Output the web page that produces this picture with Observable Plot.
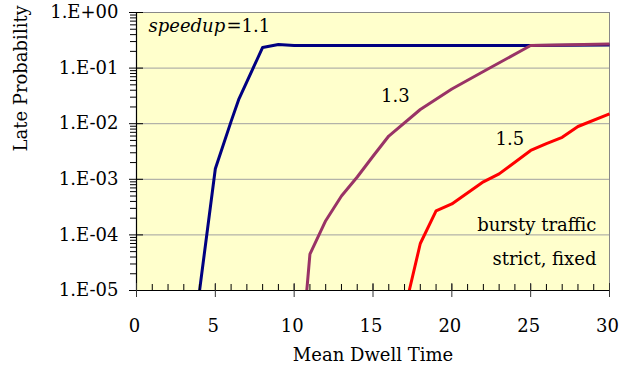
<!DOCTYPE html>
<html><head><meta charset="utf-8">
<script src="https://cdn.jsdelivr.net/npm/d3@7"></script>
<script src="https://cdn.jsdelivr.net/npm/@observablehq/plot@0.6"></script>
<style>body{margin:0;background:#fff;}</style>
</head><body><div id="chart"></div>
<script>
// Series data
const speedups = ["1.1", "1.3", "1.5"];
const dwell11 = [4, 5, 6, 6.5, 8, 9, 10, 15, 20, 25, 30];
const late11  = [1e-5, 1.55e-3, 1.1e-2, 2.8e-2, 0.235, 0.266, 0.255, 0.255, 0.255, 0.255, 0.26];
const dwell13 = [10.8, 11, 12, 13, 14, 15, 16, 18, 20, 22, 25, 30];
const late13  = [1e-5, 4.5e-5, 1.8e-4, 5e-4, 1.1e-3, 2.6e-3, 6e-3, 1.8e-2, 4.2e-2, 8.7e-2, 0.255, 0.27];
const dwell15 = [17.3, 18, 19, 20, 22, 23, 25, 26, 27, 28, 30];
const late15  = [1e-5, 7e-5, 2.7e-4, 3.6e-4, 9e-4, 1.25e-3, 3.3e-3, 4.4e-3, 5.7e-3, 8.9e-3, 1.5e-2];

// Axis ticks and labels
const majorY = [1e-5, 1e-4, 1e-3, 1e-2, 1e-1, 1];
const yTickLabels = ["1.E-05", "1.E-04", "1.E-03", "1.E-02", "1.E-01", "1.E+00"];
const minorY = [];
for (let e = -5; e < 0; e++) for (let k = 2; k <= 9; k++) minorY.push(k * Math.pow(10, e));
const majorX = [0, 5, 10, 15, 20, 25, 30];
const xTickLabels = ["0", "5", "10", "15", "20", "25", "30"];
const minorX = d3.range(0, 31, 1);

const xTitle = "Mean Dwell Time";
const yTitle = "Late Probability";

// Annotations (data coordinates)
const annItalic = [{x: 0.76, y: 0.56, t: "speedup"}];
const annStart = [{x: 5.71, y: 0.56, t: "=1.1"}];
const annMid = [{x: 16.42, y: 0.031, t: "1.3"}, {x: 23.68, y: 0.0052, t: "1.5"}];
const annEnd = [{x: 29.17, y: 1.48e-4, t: "bursty traffic"}, {x: 29.17, y: 3.6e-5, t: "strict, fixed"}];

const colors = ["#000080", "#993366", "#FF0000"];

const rows = [];
[[dwell11, late11], [dwell13, late13], [dwell15, late15]].forEach(([xs, ys], i) => {
  xs.forEach((x, j) => rows.push({speedup: speedups[i], dwell: x, late: ys[j]}));
});

const W = 619, H = 372, ML = 136, MR = 10, MT = 12, MB = 82;
const FW = W - ML - MR, FH = H - MT - MB;

const chart = Plot.plot({
  width: W, height: H,
  marginLeft: ML, marginRight: MR, marginTop: MT, marginBottom: MB,
  style: {fontFamily: "'DejaVu Serif', serif", fontSize: "18px", color: "#000", background: "#fff", overflow: "visible"},
  x: {domain: [0, 30]},
  y: {type: "log", domain: [1e-5, 1]},
  color: {domain: speedups, range: colors},
  marks: [
    Plot.frame({fill: "#FFFFCC", stroke: null}),
    Plot.gridY(majorY, {stroke: "#a0a0a0", strokeOpacity: 1, strokeWidth: 1}),
    Plot.frame({stroke: "#888", fill: null}),
    Plot.line(rows, {x: "dwell", y: "late", z: "speedup", stroke: "speedup", strokeWidth: 3, strokeLinejoin: "round", strokeLinecap: "butt"}),
    Plot.ruleX([0], {stroke: "#000", strokeWidth: 1.2}),
    Plot.ruleY([1e-5], {stroke: "#000", strokeWidth: 1.2}),
    Plot.tickY(minorY, {y: d => d, stroke: "#000", insetLeft: -6, insetRight: FW}),
    Plot.tickY(majorY, {y: d => d, stroke: "#000", insetLeft: -7, insetRight: FW - 7}),
    Plot.tickX(minorX, {x: d => d, stroke: "#000", insetTop: FH - 6, insetBottom: 0}),
    Plot.tickX(majorX, {x: d => d, stroke: "#333", insetTop: FH - 7, insetBottom: -7}),
    Plot.axisY({ticks: majorY, tickSize: 0, tickPadding: 18, tickFormat: d => yTickLabels[majorY.indexOf(d)], label: null, fontSize: 18}),
    Plot.axisX({ticks: majorX, tickSize: 0, tickPadding: 29, dx: -2, tickFormat: d => xTickLabels[majorX.indexOf(d)], label: null, fontSize: 18}),
    Plot.text([xTitle], {text: d => d, frameAnchor: "bottom", lineAnchor: "top", dy: 58, fontSize: 18}),
    Plot.text([yTitle], {text: d => d, frameAnchor: "left", rotate: -90, lineAnchor: "middle", dx: -115, fontSize: 18}),
    Plot.text(annItalic, {x: "x", y: "y", text: "t", textAnchor: "start", lineAnchor: "middle", fontStyle: "italic", fontSize: 18}),
    Plot.text(annStart, {x: "x", y: "y", text: "t", textAnchor: "start", lineAnchor: "middle", fontSize: 18}),
    Plot.text(annMid, {x: "x", y: "y", text: "t", textAnchor: "middle", lineAnchor: "middle", fontSize: 18}),
    Plot.text(annEnd, {x: "x", y: "y", text: "t", textAnchor: "end", lineAnchor: "middle", fontSize: 18})
  ]
});
document.getElementById("chart").appendChild(chart);
</script></body></html>
